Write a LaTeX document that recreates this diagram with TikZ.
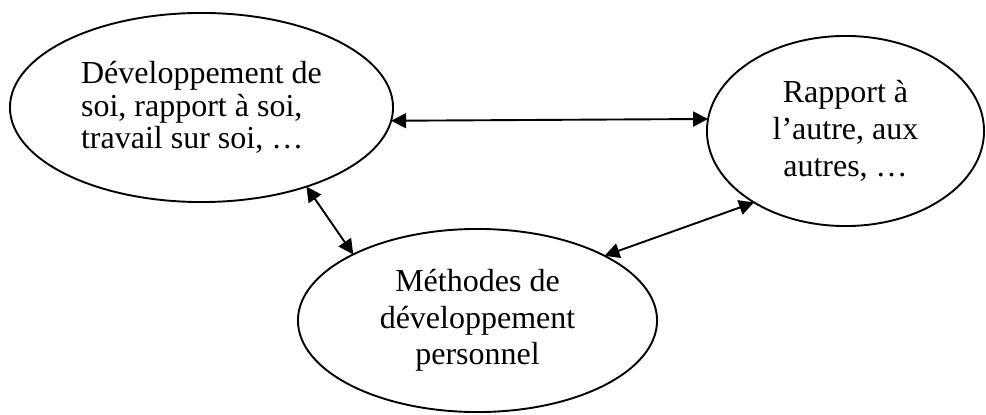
\documentclass[tikz,border=0pt]{standalone}
\usepackage{fontspec}
\setmainfont{Liberation Serif}
\usetikzlibrary{shapes.geometric,arrows.meta}

\begin{document}
\begin{tikzpicture}[x=1pt,y=-1pt,
  bubble/.style={ellipse,draw=black,line width=1.9pt,inner sep=0pt,outer sep=0pt},
  tight/.style={font=\fontsize{32}{32.3}\selectfont},
  loose/.style={font=\fontsize{32}{36.7}\selectfont},
  link/.style={{Triangle[length=15pt,width=15pt]}-{Triangle[length=15pt,width=15pt]},line width=1.9pt}]
  \useasboundingbox (0,0) rectangle (986,415);

  % the three themes
  \node[bubble,tight,align=left,minimum width=383.1pt,minimum height=189.1pt]
    (soi) at (201.5,107.5) {Développement de\\soi, rapport à soi,\\travail sur soi, …};
  \node[bubble,loose,align=center,minimum width=277.1pt,minimum height=190.1pt]
    (autres) at (845.5,131) {Rapport à\\l’autre, aux\\autres, …};
  \node[bubble,loose,align=center,minimum width=359.1pt,minimum height=183.1pt]
    (methodes) at (477.5,320.5) {Méthodes de\\développement\\personnel};

  % two-way links between them
  \draw[link] (soi.-4.05) -- (autres.175.9);
  \draw[link] (soi.-37.4) -- (methodes.152);
  \draw[link] (methodes.27.5) -- (autres.218.1);
\end{tikzpicture}
\end{document}
